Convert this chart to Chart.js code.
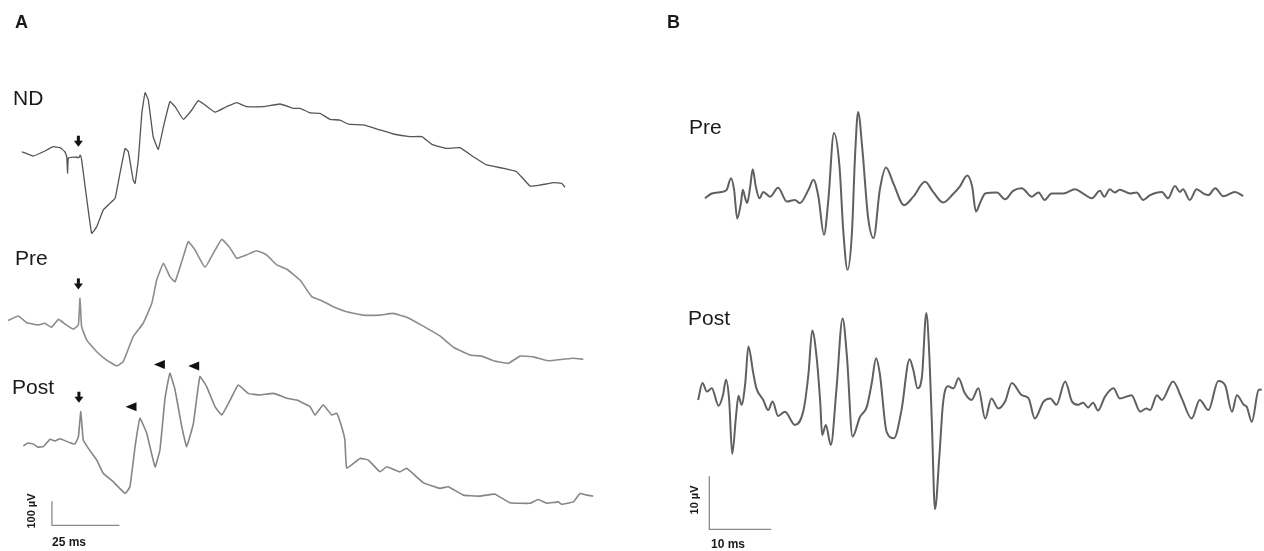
<!DOCTYPE html>
<html><head><meta charset="utf-8">
<script src="https://cdn.jsdelivr.net/npm/chart.js@4.4.1/dist/chart.umd.min.js"></script>
<style>
html,body{margin:0;padding:0;background:#fff;overflow:hidden}
#wrap{position:relative;width:1264px;height:551px}
canvas{position:absolute;top:0}
#cA{left:0}#cB{left:632px}
</style></head>
<body><div id="wrap"><canvas id="cA" width="632" height="551"></canvas><canvas id="cB" width="632" height="551"></canvas></div>
<script>
// ---------- Panel A (time in ms from stimulus, amplitude in µV) ----------
const ndT = [-21.6,-17.3,-13.6,-9.9,-7.4,-5.6,-4.9,-4.6,-4.3,-2.2,-0.4,0.1,0.6,4.3,6.2,8.6,11.1,13.0,14.8,16.7,17.9,19.7,20.4,21.6,22.9,24.1,25.3,27.1,29.0,30.9,33.3,35.2,38.3,41.4,43.8,46.3,50.0,54.3,58.0,61.7,67.9,74.1,79.0,81.5,85.2,88.9,92.6,96.3,99.4,104.9,111.1,116.0,122.2,126.6,130.3,135.8,140.7,145.7,150.6,156.8,161.7,166.7,170.4,175.3,178.4,179.6];
const ndV = [1,-17,1,22,18,1,-20,-88,-25,-21,-23,-13,-33,-339,-311,-242,-214,-193,-89,15,1,-117,-131,-33,161,247,217,64,11,105,210,189,136,175,214,196,166,189,206,189,189,200,182,182,163,161,136,133,116,113,92,75,64,64,32,15,18,-20,-54,-68,-82,-142,-138,-128,-131,-147];

const preAT = [-26.6,-22.9,-19.7,-15.4,-13.0,-10.5,-8.0,-5.6,-2.5,-0.6,0,0.6,2.5,6.2,9.9,13.6,16.0,19.7,23.4,26.6,28.4,30.9,33.3,35.2,37.7,40.1,42.6,46.3,49.4,52.5,55.6,58.0,61.7,65.4,69.1,72.9,76.6,81.5,85.8,88.9,93.8,98.8,104.9,111.1,116.0,121.0,127.1,133.3,138.3,144.4,148.8,153.1,158.6,163.0,167.9,173.4,179.0,182.7,186.4];
const preAV = [10,29,1,-8,-1,-18,15,-4,-26,-8,103,-15,-71,-120,-155,-179,-161,-57,-1,82,179,249,193,172,256,339,304,232,291,349,312,270,284,301,284,242,224,179,110,96,68,47,33,33,40,24,-13,-54,-101,-133,-138,-157,-168,-138,-141,-157,-151,-147,-151];

const postAT = [-21.0,-19.3,-17.3,-15.6,-13.6,-11.1,-9.3,-7.4,-3.7,-1.9,-0.6,0.3,1.2,3.1,6.2,8.6,12.3,16.7,18.5,20.4,22.2,24.7,27.8,29.6,31.5,33.3,35.2,37.7,39.5,42.0,44.4,46.9,50.0,52.5,55.6,58.6,62.3,66.7,71.6,76.6,80.3,85.2,87.0,90.1,93.2,95.1,96.9,98.1,98.8,103.7,106.8,111.1,113.6,118.5,121.0,127.1,133.3,136.4,142.0,148.1,153.7,159.3,166.7,169.7,172.9,177.1,178.4,182.7,185.2,187.7,190.1];
const postAV = [-8,4,0,-13,-11,20,13,22,5,0,30,135,17,-18,-67,-122,-157,-206,-178,-11,107,45,-95,-25,191,295,225,72,-11,86,281,239,156,121,183,246,211,204,211,191,183,156,121,163,121,128,72,17,-101,-60,-67,-116,-95,-116,-101,-161,-185,-178,-213,-217,-209,-245,-247,-231,-247,-241,-251,-241,-206,-213,-217];

// stimulus arrows (ms, µV relative to each trace) and Post arrowheads
const stimArrowT = [-0.6, -0.6, -0.4];
const stimArrowV = [22, 140, 172];
const peakMarkT = [18.9, 29.4, 42.1];
const peakMarkV = [155, 331, 325];

// ---------- Panel B (time in ms, amplitude in µV) ----------
const preBT = [0.8,1.9,3.5,4.3,5.0,5.5,6.0,6.6,6.9,7.3,7.6,8.1,8.5,9.0,9.6,10.2,11.3,12.6,14.0,15.3,16.1,17.5,18.3,19.1,20.0,20.7,21.6,22.5,23.1,23.8,24.5,25.0,25.5,26.2,27.1,28.0,29.0,30.0,31.2,32.9,34.4,36.3,37.6,39.2,40.9,41.9,43.1,43.9,44.5,45.2,46.0,47.9,49.2,50.5,51.9,53.5,54.6,55.6,56.7,58.6,60.5,61.8,63.2,64.5,65.2,66.1,66.9,67.7,69.4,70.4,71.5,72.6,74.5,75.5,76.6,77.4,77.9,79.0,80.1,81.2,82.0,83.1,84.4,86.3,87.6];
const preBV = [-1.0,-0.1,0.2,0.6,2.8,0.6,-4.8,-1.9,0.6,-1.0,-1.9,1.2,4.5,1.2,-1.0,0.2,-0.7,1.0,-1.6,-1.3,-1.9,0.6,2.5,-0.7,-7.9,-1.3,11.3,5.0,-7.0,-14.5,-7.6,6.8,15.3,8.1,-4.5,-8.5,0.6,4.8,1.8,-2.3,-0.7,2.1,0.2,-1.8,-0.1,1.2,3.3,1.2,-3.5,-1.8,-0.1,0.1,-1.2,0.4,0.9,-0.7,0.1,-1.3,-0.1,-0.1,0.7,-0.1,-1.0,0.4,-0.7,0.7,0.1,0.6,-0.1,0.1,-1.3,-0.4,0.2,-1.0,1.3,0.2,0.7,-1.3,0.7,-0.1,-0.4,0.9,-0.6,0.2,-0.6];

const postBT = [-0.3,0.4,1.1,1.9,3.0,3.7,4.2,4.7,5.2,5.8,6.2,6.7,7.3,7.8,8.6,9.1,10.2,11.0,11.7,12.6,13.7,15.3,16.7,17.5,18.1,18.8,19.4,19.7,20.3,21.1,22.0,23.0,23.7,24.6,25.8,26.9,27.7,28.4,29.0,30.1,31.3,32.5,33.8,34.4,35.1,35.8,36.5,37.0,37.4,37.9,38.6,39.2,40.0,40.9,41.7,42.7,43.8,44.9,46.0,47.0,48.1,49.2,50.3,51.9,53.0,54.0,55.4,56.5,57.5,58.9,60.0,61.0,61.8,62.6,63.4,64.2,65.3,66.7,67.7,69.6,71.0,72.0,72.6,73.7,74.5,76.3,77.7,79.3,80.6,82.0,83.6,84.7,85.8,86.6,87.7,88.2,89.0,90.1,90.6];
const postBV = [0,3.2,1.6,2.2,-1.1,0.9,3.8,0,-10.2,-3.2,0.8,-0.9,3.2,10.1,5.0,2.2,0,-1.9,-0.3,-3.0,-2.2,-4.7,-1.9,5.0,13.1,8.2,-0.6,-6.6,-4.7,-8.5,1.9,15.4,8.2,-6.9,-3.2,-1.3,3.2,7.9,5.0,-6.0,-7.2,-1.9,7.7,5.7,2.2,4.4,16.4,8.2,-4.4,-20.6,-10.7,-0.6,2.6,2.2,4.1,1.3,0,2.2,-3.5,0.3,-1.6,-0.3,3.2,0.9,0.3,-3.5,-0.3,0.3,-0.9,3.5,-0.3,-0.9,-0.5,-1.4,-0.5,-2.0,0.6,2.2,0.3,0.9,-2.2,-1.6,-1.9,0.9,0,3.5,0.3,-3.5,0,-1.9,3.6,2.8,-2.2,0.9,-0.9,-1.3,-4.1,1.9,2.0];

// ---------- layout (positions / styles) ----------
const FONT = "Arial, 'Liberation Sans', sans-serif";
const layoutA = { xMin: -80/2.7, xMax: (632-80)/2.7, yMin: 0, yMax: 551/0.24,
  offsets: { nd: 1662.5, pre: 950, post: 445.8 }, bar: { t0: -10.4, v0: 107, ms: 25, uV: 100 } };
const layoutB = { xMin: -68/6.2, xMax: 564/6.2, yMin: 0, yMax: 551/5.3,
  offsets: { pre: 67.55, post: 28.49 }, bar: { t0: 1.5, v0: 4.09, ms: 10, uV: 10 } };

const zip = (T, V, off) => T.map((t, i) => ({ x: t, y: V[i] + off }));
const barData = b => [{x:b.t0,y:b.v0+b.uV},{x:b.t0,y:b.v0},{x:b.t0+b.ms,y:b.v0}];

const overlay = {
  id: 'overlay',
  afterDatasetsDraw(chart, args, opts) {
    const ctx = chart.ctx, xs = chart.scales.x, ys = chart.scales.y;
    ctx.save();
    ctx.fillStyle = '#111';
    (opts.arrows || []).forEach(a => {
      const x = xs.getPixelForValue(a.t), y = ys.getPixelForValue(a.v);
      ctx.beginPath(); ctx.moveTo(x, y); ctx.lineTo(x - 4.5, y - 6); ctx.lineTo(x + 4.5, y - 6); ctx.closePath(); ctx.fill();
      ctx.fillRect(x - 1.5, y - 11, 3, 5.5);
    });
    (opts.heads || []).forEach(a => {
      const x = xs.getPixelForValue(a.t), y = ys.getPixelForValue(a.v);
      ctx.beginPath(); ctx.moveTo(x - 5.5, y); ctx.lineTo(x + 5.5, y - 4.5); ctx.lineTo(x + 5.5, y + 4.5); ctx.closePath(); ctx.fill();
    });
    (opts.labels || []).forEach(l => {
      ctx.font = l.font; ctx.fillStyle = l.color || '#1a1a1a';
      if (l.rot) {
        ctx.save(); ctx.translate(l.x, l.y); ctx.rotate(l.rot);
        ctx.textAlign = 'center'; ctx.textBaseline = 'middle'; ctx.fillText(l.text, 0, 0); ctx.restore();
      } else { ctx.textAlign = 'left'; ctx.textBaseline = 'alphabetic'; ctx.fillText(l.text, l.x, l.y); }
    });
    ctx.restore();
  }
};

function makeChart(id, L, datasets, ov) {
  return new Chart(document.getElementById(id), {
    type: 'line',
    data: { datasets },
    options: {
      responsive: false, animation: false, events: [],
      layout: { padding: 0 },
      elements: { point: { radius: 0 } },
      plugins: { legend: { display: false }, tooltip: { enabled: false }, overlay: ov },
      scales: {
        x: { type: 'linear', display: false, min: L.xMin, max: L.xMax },
        y: { type: 'linear', display: false, min: L.yMin, max: L.yMax }
      }
    },
    plugins: [overlay]
  });
}

const lineA = (data, color, w) => ({ data, borderColor: color, borderWidth: w, tension: 0.1, fill: false, pointRadius: 0 });
const lineB = (data) => ({ data, borderColor: '#606060', borderWidth: 2, cubicInterpolationMode: 'monotone', fill: false, pointRadius: 0 });
const barStyle = (data) => ({ data, borderColor: '#8a8a8a', borderWidth: 1.3, tension: 0, fill: false, pointRadius: 0 });

const oA = layoutA.offsets;
makeChart('cA', layoutA, [
  lineA(zip(ndT, ndV, oA.nd), '#555555', 1.3),
  lineA(zip(preAT, preAV, oA.pre), '#8c8c8c', 1.6),
  lineA(zip(postAT, postAV, oA.post), '#858585', 1.6),
  barStyle(barData(layoutA.bar))
], {
  arrows: stimArrowT.map((t, i) => ({ t, v: stimArrowV[i] + [oA.nd, oA.pre, oA.post][i] })),
  heads: peakMarkT.map((t, i) => ({ t, v: peakMarkV[i] + oA.post })),
  labels: [
    { text: 'A', x: 15, y: 28, font: 'bold 18px ' + FONT },
    { text: 'ND', x: 13, y: 105, font: '21px ' + FONT },
    { text: 'Pre', x: 15, y: 265, font: '21px ' + FONT },
    { text: 'Post', x: 12, y: 394, font: '21px ' + FONT },
    { text: '100 µV', x: 32, y: 511, rot: -Math.PI / 2, font: 'bold 11px ' + FONT },
    { text: '25 ms', x: 52, y: 546, font: 'bold 12px ' + FONT }
  ]
});

const oB = layoutB.offsets;
makeChart('cB', layoutB, [
  lineB(zip(preBT, preBV, oB.pre)),
  lineB(zip(postBT, postBV, oB.post)),
  barStyle(barData(layoutB.bar))
], {
  labels: [
    { text: 'B', x: 35, y: 28, font: 'bold 18px ' + FONT },
    { text: 'Pre', x: 57, y: 134, font: '21px ' + FONT },
    { text: 'Post', x: 56, y: 325, font: '21px ' + FONT },
    { text: '10 µV', x: 63, y: 500, rot: -Math.PI / 2, font: 'bold 11px ' + FONT },
    { text: '10 ms', x: 79, y: 548, font: 'bold 12px ' + FONT }
  ]
});
</script>
</body></html>
